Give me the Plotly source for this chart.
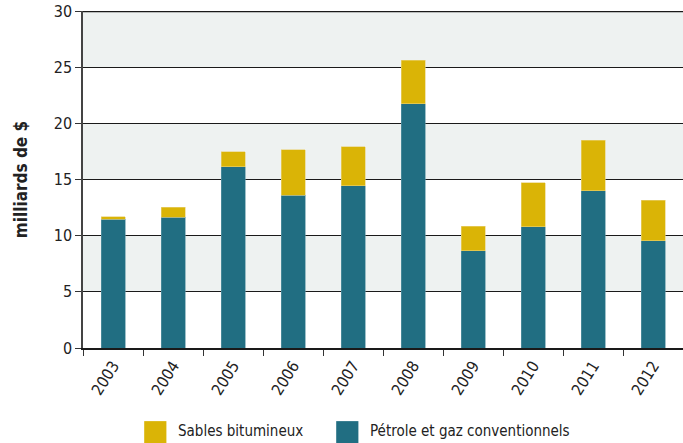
import plotly.graph_objects as go

years = ["2003", "2004", "2005", "2006", "2007", "2008", "2009", "2010", "2011", "2012"]
conventionnels = [11.45, 11.65, 16.15, 13.6, 14.45, 21.75, 8.65, 10.8, 14.0, 9.55]
sables = [0.25, 0.9, 1.3, 4.05, 3.45, 3.85, 2.2, 3.9, 4.5, 3.6]
y_ticks = [0, 5, 10, 15, 20, 25, 30]
bands = [(5, 10), (15, 20), (25, 30)]

TEAL = "#216e82"
GOLD = "#dab406"
FONT = "DejaVu Sans Condensed, Liberation Sans Narrow, sans-serif"

fig = go.Figure()
fig.add_trace(go.Bar(
    x=years, y=conventionnels, name="Pétrole et gaz conventionnels",
    marker=dict(color=TEAL, line=dict(color="#5f97a6", width=0.6)),
))
fig.add_trace(go.Bar(
    x=years, y=sables, name="Sables bitumineux",
    marker=dict(color=GOLD, line=dict(color="#ead27a", width=0.6)),
))

# shaded background bands
for lo, hi in bands:
    fig.add_shape(type="rect", xref="paper", yref="y", x0=0, x1=1, y0=lo, y1=hi,
                  fillcolor="#eef2f1", line_width=0, layer="below")
fig.add_shape(type="line", xref="paper", yref="y", x0=0, x1=1, y0=30, y1=30,
              line=dict(color="#1a1a1a", width=2.5))

# custom legend with large squares
legend_items = [("Sables bitumineux", GOLD, 0.102), ("Pétrole et gaz conventionnels", TEAL, 0.422)]
for label, color, x0 in legend_items:
    fig.add_shape(type="rect", xref="paper", yref="paper",
                  x0=x0, x1=x0 + 0.037, y0=-0.29, y1=-0.217,
                  fillcolor=color, line_width=0)
    fig.add_annotation(x=x0 + 0.053, y=-0.246, xref="paper", yref="paper",
                       text=label, showarrow=False, xanchor="left", yanchor="middle",
                       font=dict(size=15, color="#222222", family=FONT))

fig.update_layout(
    barmode="stack",
    bargap=0.6,
    width=683, height=443,
    margin=dict(l=83, r=0, t=11, b=95, autoexpand=False),
    plot_bgcolor="white",
    paper_bgcolor="white",
    showlegend=False,
    font=dict(family=FONT, size=16, color="#222222"),
)
fig.update_xaxes(
    tickangle=-58,
    tickson="boundaries",
    ticks="outside", ticklen=6, tickcolor="#333333",
    showline=True, linecolor="#1a1a1a", linewidth=2,
    tickfont=dict(size=16),
    automargin=False,
)
fig.update_yaxes(
    range=[0, 30],
    tickvals=y_ticks,
    ticks="outside", ticklen=6, tickcolor="#333333",
    showgrid=True, gridcolor="#1a1a1a", gridwidth=1,
    showline=True, linecolor="#444444", linewidth=1.5,
    zeroline=False,
    tickfont=dict(size=16),
    title=dict(text="<b>milliards de $</b>", font=dict(size=17), standoff=22),
    automargin=False,
)

# drop the default 8px page margin so the figure fills the window
fig.write_html(
    "out.html",
    config={"displayModeBar": False},
    post_script="document.body.style.margin = '0';",
)
